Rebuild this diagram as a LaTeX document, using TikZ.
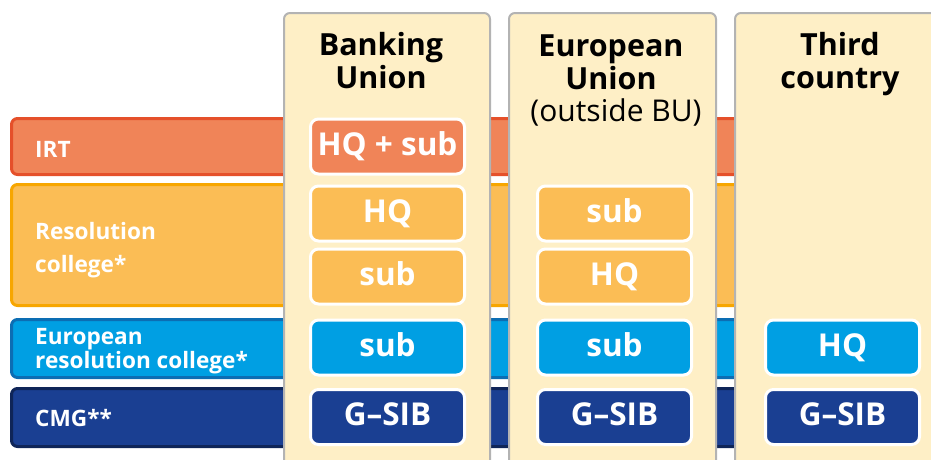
\documentclass[tikz,border=0pt]{standalone}
\usepackage{fontspec}
\setmainfont{Open Sans}
\definecolor{irtfill}{HTML}{F08458}
\definecolor{irtline}{HTML}{E5502A}
\definecolor{rcfill}{HTML}{FBBD55}
\definecolor{rcline}{HTML}{F7A600}
\definecolor{ercfill}{HTML}{009FE3}
\definecolor{ercline}{HTML}{0C6DB3}
\definecolor{cmgfill}{HTML}{1A3F92}
\definecolor{cmgline}{HTML}{0F2558}
\definecolor{colfill}{HTML}{FEEFC6}
\definecolor{colline}{HTML}{B3B3B3}
\begin{document}
\begin{tikzpicture}[x=1pt,y=-1pt,
  band/.style={draw=#1line, fill=#1fill, line width=3pt, rounded corners=6pt,
    minimum width=948.5pt, inner sep=0pt, anchor=center},
  colpanel/.style={draw=colline, fill=colfill, line width=2pt, rounded corners=6pt,
    minimum height=467pt, inner sep=0pt},
  cellbox/.style={draw=white, fill=#1fill, line width=3pt, rounded corners=8pt,
    minimum width=154pt, minimum height=55pt, inner sep=0pt, text=white,
    font=\bfseries\fontsize{31.5}{31.5}\selectfont, text height=23pt, text depth=6pt},
  bandlabel/.style={anchor=base west, inner sep=0pt, text=white,
    font=\bfseries\fontsize{22.6}{22.6}\selectfont},
  head/.style={anchor=base, inner sep=0pt, text=black,
    font=\bfseries\fontsize{30.5}{30.5}\selectfont},
  subhead/.style={anchor=base, inner sep=0pt, text=black,
    font=\fontsize{30}{30}\selectfont}]
\useasboundingbox (0,0) rectangle (931,459);
\clip (0,0) rectangle (931,459);
% bands
\node[band=irt, minimum height=56pt] (irt) at (485.75,146.5) {};
\node[band=rc, minimum height=121pt] (rc) at (485.75,245) {};
\node[band=erc, minimum height=58pt] (erc) at (485.75,348.5) {};
\node[band=cmg, minimum height=58pt] (cmg) at (485.75,417.5) {};
% band labels
\node[bandlabel] (irtlab) at (35,157) {IRT};
\node[bandlabel] (rclab1) at (35,239) {Resolution};
\node[bandlabel] (rclab2) at (35,272) {college*};
\node[bandlabel] (erclab1) at (35,344) {European};
\node[bandlabel] (erclab2) at (35,368) {resolution college*};
\node[bandlabel] (cmglab) at (35,426) {CMG**};
% columns
\node[colpanel, minimum width=206pt] (col1) at (387,246.5) {};
\node[colpanel, minimum width=207pt] (col2) at (612.5,246.5) {};
\node[colpanel, minimum width=235pt] (col3) at (852.5,246.5) {};
% headers
\node[head] (h1a) at (381,55) {Banking};
\node[head] (h1b) at (381,88) {Union};
\node[head] (h2a) at (611,56) {European};
\node[head] (h2b) at (611,89) {Union};
\node[subhead] (h2c) at (616,121) {(outside BU)};
\node[head] (h3a) at (840,55) {Third};
\node[head] (h3b) at (840,88) {country};
% column 1 cells
\node[cellbox=irt] (c1irt) at (387.5,146.5) {HQ + sub};
\node[cellbox=rc] (c1rca) at (387.5,213.5) {HQ};
\node[cellbox=rc] (c1rcb) at (387.5,276.5) {sub};
\node[cellbox=erc] (c1erc) at (387.5,347.5) {sub};
\node[cellbox=cmg] (c1cmg) at (387.5,417) {G–SIB};
% column 2 cells
\node[cellbox=rc] (c2rca) at (614.5,213.5) {sub};
\node[cellbox=rc] (c2rcb) at (614.5,276.5) {HQ};
\node[cellbox=erc] (c2erc) at (614.5,347.5) {sub};
\node[cellbox=cmg] (c2cmg) at (614.5,417) {G–SIB};
% column 3 cells
\node[cellbox=erc] (c3erc) at (842.5,347.5) {HQ};
\node[cellbox=cmg] (c3cmg) at (842.5,417) {G–SIB};
\end{tikzpicture}
\end{document}
